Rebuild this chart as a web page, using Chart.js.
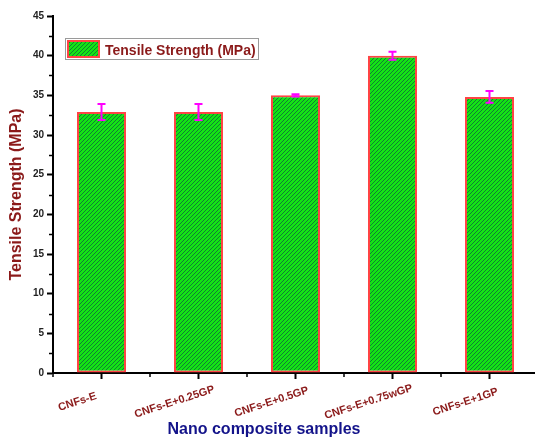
<!DOCTYPE html>
<html>
<head>
<meta charset="utf-8">
<script src="https://cdn.jsdelivr.net/npm/chart.js@4.4.1/dist/chart.umd.min.js"></script>
<style>
  html, body { margin: 0; padding: 0; background: #fff; overflow: hidden; }
  #wrap { position: relative; width: 540px; height: 439px; }
</style>
</head>
<body>
<div id="wrap"><canvas id="c"></canvas></div>
<script>
// Tensile strength of the nano composite samples
const samples = ['CNFs-E', 'CNFs-E+0.25GP', 'CNFs-E+0.5GP', 'CNFs-E+0.75wGP', 'CNFs-E+1GP'];
const strength = [32.9, 32.9, 35.0, 40.0, 34.8];
const strengthErr = [1.0, 1.0, 0.15, 0.5, 0.75];
const seriesName = 'Tensile Strength (MPa)';
const xTitle = 'Nano composite samples';
const yTitle = 'Tensile Strength (MPa)';
const yMax = 45, yStep = 5;

const DARK_RED = '#8B1A1A';
const NAVY = '#13138A';
const BAR_RED = '#FF4444';
const MAGENTA = '#FF00FF';

// green fill with dark "/" hatching
function makeHatch() {
  const t = document.createElement('canvas');
  t.width = 4; t.height = 4;
  const g = t.getContext('2d');
  g.fillStyle = '#14E314';
  g.fillRect(0, 0, 4, 4);
  g.fillStyle = '#0E7F34';
  for (let x = 0; x < 4; x++) g.fillRect(x, 3 - x, 1, 1);
  return g.createPattern(t, 'repeat');
}
const hatch = makeHatch();

// error bars drawn through the value scale
const errorBars = {
  id: 'errorBars',
  afterDatasetsDraw(chart) {
    const ctx = chart.ctx, y = chart.scales.y;
    const meta = chart.getDatasetMeta(0);
    ctx.save();
    ctx.strokeStyle = MAGENTA;
    ctx.lineWidth = 2;
    meta.data.forEach((bar, i) => {
      const top = y.getPixelForValue(strength[i] + strengthErr[i]);
      const bot = y.getPixelForValue(strength[i] - strengthErr[i]);
      ctx.beginPath();
      ctx.moveTo(bar.x, top); ctx.lineTo(bar.x, bot);
      ctx.moveTo(bar.x - 4, top); ctx.lineTo(bar.x + 4, top);
      ctx.moveTo(bar.x - 4, bot); ctx.lineTo(bar.x + 4, bot);
      ctx.stroke();
    });
    ctx.restore();
  }
};

// minor ticks, rotated category labels, axis titles and boxed legend
const decorations = {
  id: 'decorations',
  afterDraw(chart) {
    const ctx = chart.ctx, x = chart.scales.x, y = chart.scales.y;
    const area = chart.chartArea;
    ctx.save();
    ctx.strokeStyle = '#000';
    ctx.lineWidth = 1.5;
    ctx.beginPath();
    for (let v = yStep / 2; v < yMax; v += yStep) {
      const py = Math.round(y.getPixelForValue(v)) + 0.5;
      ctx.moveTo(area.left - 4, py); ctx.lineTo(area.left, py);
    }
    for (let i = 0; i <= samples.length; i++) {
      const px = Math.round(x.getPixelForValue(i - 0.5));
      ctx.moveTo(px, area.bottom); ctx.lineTo(px, area.bottom + 4);
    }
    ctx.stroke();

    // category labels
    ctx.fillStyle = DARK_RED;
    ctx.font = 'bold 11px "Liberation Sans", Arial, sans-serif';
    ctx.textAlign = 'center';
    ctx.textBaseline = 'middle';
    samples.forEach((s, i) => {
      ctx.save();
      ctx.translate(x.getPixelForValue(i) - 24, 402);
      ctx.rotate(-18 * Math.PI / 180);
      ctx.fillText(s, 0, 0);
      ctx.restore();
    });

    // axis titles
    ctx.font = 'bold 16px "Liberation Sans", Arial, sans-serif';
    ctx.fillStyle = NAVY;
    ctx.textBaseline = 'alphabetic';
    ctx.fillText(xTitle, 264, 434);
    ctx.save();
    ctx.translate(21, (area.top + area.bottom) / 2);
    ctx.rotate(-Math.PI / 2);
    ctx.fillStyle = DARK_RED;
    ctx.fillText(yTitle, 0, 0);
    ctx.restore();

    // legend
    ctx.strokeStyle = '#9a9a9a';
    ctx.lineWidth = 1;
    ctx.strokeRect(65.5, 38.5, 193, 21);
    ctx.fillStyle = hatch;
    ctx.fillRect(68, 41, 31, 16);
    ctx.strokeStyle = BAR_RED;
    ctx.lineWidth = 2;
    ctx.strokeRect(68, 41, 31, 16);
    ctx.fillStyle = DARK_RED;
    ctx.textAlign = 'left';
    ctx.font = 'bold 14px "Liberation Sans", Arial, sans-serif';
    ctx.fillText(chart.data.datasets[0].label, 105, 55);
    ctx.restore();
  }
};

new Chart(document.getElementById('c'), {
  type: 'bar',
  data: {
    labels: samples,
    datasets: [{
      label: seriesName,
      data: strength,
      backgroundColor: hatch,
      borderColor: BAR_RED,
      borderWidth: 2,
      borderSkipped: false,
      barPercentage: 0.505,
      categoryPercentage: 1
    }]
  },
  options: {
    responsive: true,
    maintainAspectRatio: false,
    animation: false,
    devicePixelRatio: 1,
    layout: { padding: { top: 16, right: 2, left: 0, bottom: 0 } },
    plugins: { legend: { display: false }, tooltip: { enabled: false } },
    scales: {
      x: {
        grid: { display: true, drawOnChartArea: false, offset: false, tickLength: 6, tickColor: '#000', tickWidth: 2 },
        border: { display: true, color: '#000', width: 2 },
        ticks: { display: false },
        afterFit(s) { s.height = 66; }
      },
      y: {
        min: 0, max: yMax,
        grid: { display: true, drawOnChartArea: false, tickLength: 6, tickColor: '#000', tickWidth: 2 },
        border: { display: true, color: '#000', width: 2 },
        ticks: {
          stepSize: yStep,
          color: '#222',
          padding: 3,
          font: { family: '"Liberation Sans", Arial, sans-serif', size: 10, weight: 'bold' }
        },
        afterFit(s) { s.width = 53; }
      }
    }
  },
  plugins: [errorBars, decorations]
});
</script>
</body>
</html>
